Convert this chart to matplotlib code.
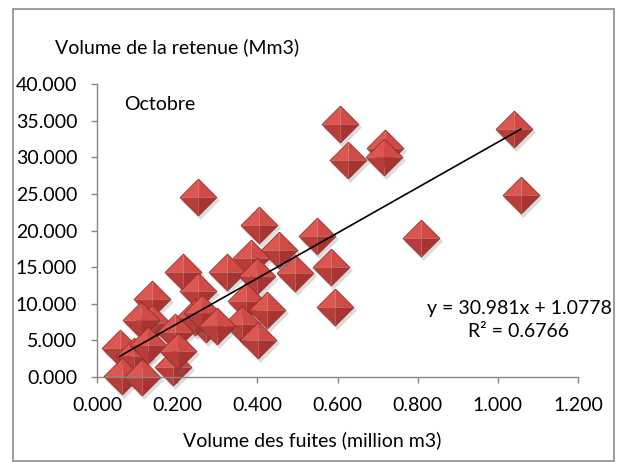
import matplotlib
matplotlib.use("Agg")
import matplotlib.pyplot as plt
from matplotlib.path import Path
from matplotlib.patches import Rectangle
from matplotlib.transforms import offset_copy

plt.rcParams['font.family'] = ['Lato', 'DejaVu Sans']

# leakage volume (million m3) vs reservoir volume (Mm3), October
fuites = [1.040, 1.057, 0.808, 0.606, 0.625, 0.719, 0.715, 0.548, 0.585, 0.593,
          0.495, 0.253, 0.405, 0.455, 0.385, 0.324, 0.215, 0.398, 0.253, 0.136,
          0.372, 0.425, 0.362, 0.402, 0.273, 0.136, 0.110, 0.245, 0.262, 0.195,
          0.057, 0.092, 0.128, 0.190, 0.203, 0.062, 0.112, 0.300]
retenue = [33.8, 24.8, 19.0, 34.6, 29.6, 31.2, 30.0, 19.3, 15.0, 9.6,
           14.2, 24.6, 20.7, 17.3, 16.2, 14.4, 14.3, 13.8, 11.7, 10.7,
           10.4, 9.2, 7.3, 5.0, 7.2, 7.4, 7.8, 8.2, 8.8, 6.2,
           3.9, 2.8, 4.4, 1.4, 3.6, 0.2, 0.0, 7.0]

# trend line from Excel
pente = 30.981
ordonnee = 1.0778
r2 = 0.6766

x_ticks = [0.0, 0.2, 0.4, 0.6, 0.8, 1.0, 1.2]
y_ticks = [0, 5, 10, 15, 20, 25, 30, 35, 40]

fs = 14

fig = plt.figure(figsize=(6.18, 4.62), dpi=100)
ax = fig.add_axes([97/618, 1 - 377/462, (578 - 97)/618, (377 - 84)/462])

# diamond facets (pyramid look)
facets = [
    ([(0, 0), (-1, 0), (0, 1), (0, 0)], '#DD5752'),
    ([(0, 0), (0, 1), (1, 0), (0, 0)], '#D14B46'),
    ([(0, 0), (-1, 0), (0, -1), (0, 0)], '#B83D39'),
    ([(0, 0), (1, 0), (0, -1), (0, 0)], '#A83431'),
]
full = Path([(0, 1), (1, 0), (0, -1), (-1, 0), (0, 1)])
ms = 26.5
shadow_tr = offset_copy(ax.transData, fig=fig, x=2, y=-3, units='dots')

for xv, yv in zip(fuites, retenue):
    ax.plot([xv], [yv], marker=full, ms=ms + 1.5, color='#707070', alpha=0.25,
            mew=0, ls='none', transform=shadow_tr, clip_on=False)
    for verts, col in facets:
        ax.plot([xv], [yv], marker=Path(verts), ms=ms, color=col, mew=0,
                ls='none', clip_on=False)
    ax.plot([xv], [yv], marker=full, ms=ms, mfc='none', mec='#932B28',
            mew=0.6, ls='none', clip_on=False)

xl = [min(fuites), max(fuites)]
ax.plot(xl, [pente * v + ordonnee for v in xl], color='black', lw=1.2, zorder=5)

ax.set_xlim(0, 1.2)
ax.set_ylim(0, 40)
ax.set_xticks(x_ticks)
ax.set_yticks(y_ticks)
ax.set_xticklabels(['%.3f' % v for v in x_ticks], fontsize=fs)
ax.set_yticklabels(['%.3f' % v for v in y_ticks], fontsize=fs)
ax.tick_params(axis='both', color='#868686', length=4.3, width=1, direction='out')
ax.tick_params(axis='y', pad=10)
ax.tick_params(axis='x', pad=10)
for s in ['top', 'right']:
    ax.spines[s].set_visible(False)
for s in ['left', 'bottom']:
    ax.spines[s].set_color('#868686')
    ax.spines[s].set_linewidth(1)

fig.text(55/618, 1 - 47/462, 'Volume de la retenue (Mm3)', fontsize=fs,
         ha='left', va='center')
fig.text(312/618, 1 - 440/462, 'Volume des fuites (million m3)', fontsize=fs,
         ha='center', va='center')
fig.text(124/618, 1 - 104/462, 'Octobre', fontsize=fs, ha='left', va='center')
fig.text(519/618, 1 - 320/462,
         'y = %.3fx + %.4f\nR² = %.4f' % (pente, ordonnee, r2),
         fontsize=fs, ha='center', va='center', linespacing=1.4)

fig.patches.append(Rectangle((13/618, 1 - 461/462), (614 - 13)/618, (461 - 9)/462,
                             transform=fig.transFigure, fill=False,
                             edgecolor='#8C8C8C', lw=1.2))

fig.savefig('out.png', dpi=100)
